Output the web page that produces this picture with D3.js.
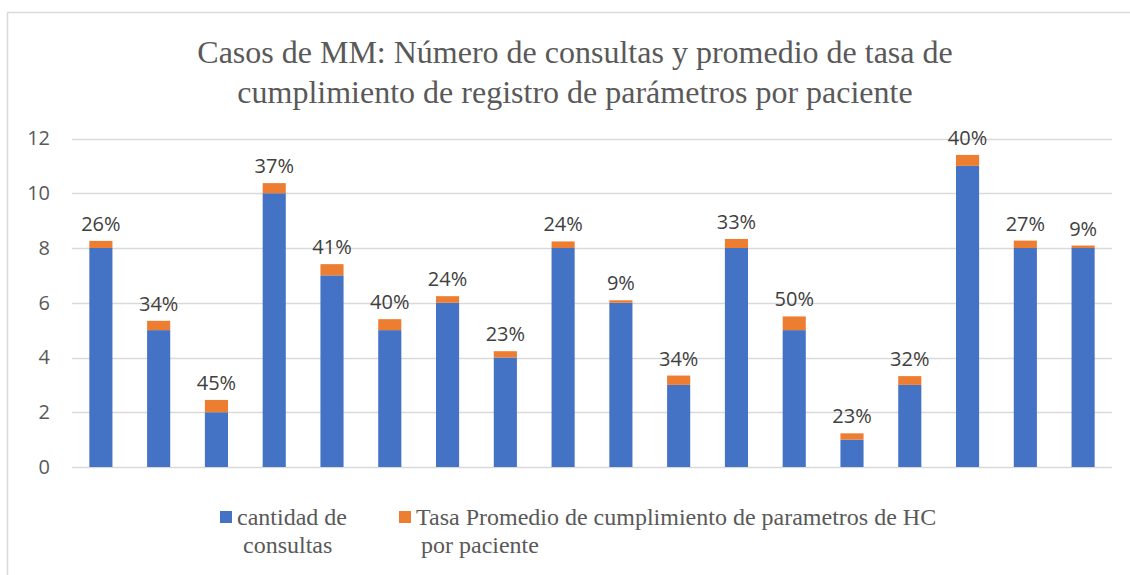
<!DOCTYPE html>
<html>
<head>
<meta charset="utf-8">
<script src="https://cdn.jsdelivr.net/npm/d3@7"></script>
<style>
  body { margin: 0; background: #fff; }
</style>
</head>
<body>
<div id="chart"></div>
<script>
const WIDTH = 1130;
const HEIGHT = 575;

const PATIENTS = d3.range(1, 19).map(String);
const CONSULTAS = [8, 5, 2, 10, 7, 5, 6, 4, 8, 6, 3, 8, 5, 1, 3, 11, 8, 8];
const TASA = [0.26, 0.34, 0.45, 0.37, 0.41, 0.40, 0.24, 0.23, 0.24, 0.09, 0.34, 0.33, 0.50, 0.23, 0.32, 0.40, 0.27, 0.09];
const Y_TICKS = [0, 2, 4, 6, 8, 10, 12];
const TITLE = ['Casos de MM: Número de consultas y promedio de tasa de', 'cumplimiento de registro de parámetros por paciente'];

const BLUE = '#4472C4';
const ORANGE = '#ED7D31';

const margin = {left: 72, right: 18, top: 138.5, bottom: 108};

const svg = d3.select('#chart').append('svg')
  .attr('width', WIDTH).attr('height', HEIGHT);

// chart frame
svg.append('rect')
  .attr('x', 7.5).attr('y', 12.5)
  .attr('width', WIDTH + 10).attr('height', HEIGHT + 10)
  .attr('fill', 'none').attr('stroke', '#d9d9d9').attr('stroke-width', 1.5);

const x = d3.scaleBand()
  .domain(PATIENTS)
  .range([margin.left, WIDTH - margin.right])
  .paddingInner(0.6).paddingOuter(0.3);

const y = d3.scaleLinear()
  .domain([0, 12])
  .range([HEIGHT - margin.bottom, margin.top]);

// gridlines
svg.append('g').selectAll('line').data(Y_TICKS).enter()
  .append('line')
  .attr('x1', margin.left).attr('x2', WIDTH - margin.right)
  .attr('y1', d => Math.round(y(d)) + 0.5).attr('y2', d => Math.round(y(d)) + 0.5)
  .attr('stroke', '#d9d9d9').attr('stroke-width', 1.3);

// y axis labels
const yAxis = svg.append('g')
  .attr('transform', `translate(${margin.left - 22},0)`)
  .call(d3.axisLeft(y).tickValues(Y_TICKS).tickSize(0).tickPadding(0));
yAxis.select('.domain').remove();
yAxis.selectAll('text')
  .attr('font-family', 'Open Sans, sans-serif')
  .attr('font-size', 20)
  .attr('fill', '#595959');

const rows = PATIENTS.map((p, i) => ({p, c: CONSULTAS[i], t: TASA[i]}));

// blue bars
svg.append('g').selectAll('rect').data(rows).enter()
  .append('rect')
  .attr('x', d => x(d.p))
  .attr('width', x.bandwidth())
  .attr('y', d => y(d.c))
  .attr('height', d => y(0) - y(d.c))
  .attr('fill', BLUE);

// orange bars stacked on top
svg.append('g').selectAll('rect').data(rows).enter()
  .append('rect')
  .attr('x', d => x(d.p))
  .attr('width', x.bandwidth())
  .attr('y', d => y(d.c + d.t))
  .attr('height', d => y(d.c) - y(d.c + d.t))
  .attr('fill', ORANGE);

// data labels
svg.append('g').selectAll('text').data(rows).enter()
  .append('text')
  .attr('x', d => x(d.p) + x.bandwidth() / 2)
  .attr('y', d => y(d.c + d.t) - 10)
  .attr('text-anchor', 'middle')
  .attr('font-family', 'Open Sans, sans-serif')
  .attr('font-size', 20)
  .attr('fill', '#404040')
  .text(d => Math.round(d.t * 100) + '%');

// title
svg.append('g').selectAll('text').data(TITLE).enter()
  .append('text')
  .attr('x', 575)
  .attr('y', (d, i) => 63 + i * 40)
  .attr('text-anchor', 'middle')
  .attr('font-family', 'Liberation Serif, serif')
  .attr('font-size', 32)
  .attr('fill', '#595959')
  .text(d => d);

// legend
const legend = svg.append('g')
  .attr('font-family', 'Liberation Serif, serif')
  .attr('font-size', 24)
  .attr('fill', '#595959');

legend.append('rect').attr('x', 220).attr('y', 511).attr('width', 12).attr('height', 12).attr('fill', BLUE);
legend.append('text').attr('x', 237).attr('y', 525).text('cantidad de');
legend.append('text').attr('x', 243).attr('y', 553).text('consultas');

legend.append('rect').attr('x', 399).attr('y', 511).attr('width', 12).attr('height', 12).attr('fill', ORANGE);
legend.append('text').attr('x', 416).attr('y', 525).text('Tasa Promedio de cumplimiento de parametros de HC');
legend.append('text').attr('x', 421).attr('y', 553).text('por paciente');
</script>
</body>
</html>
